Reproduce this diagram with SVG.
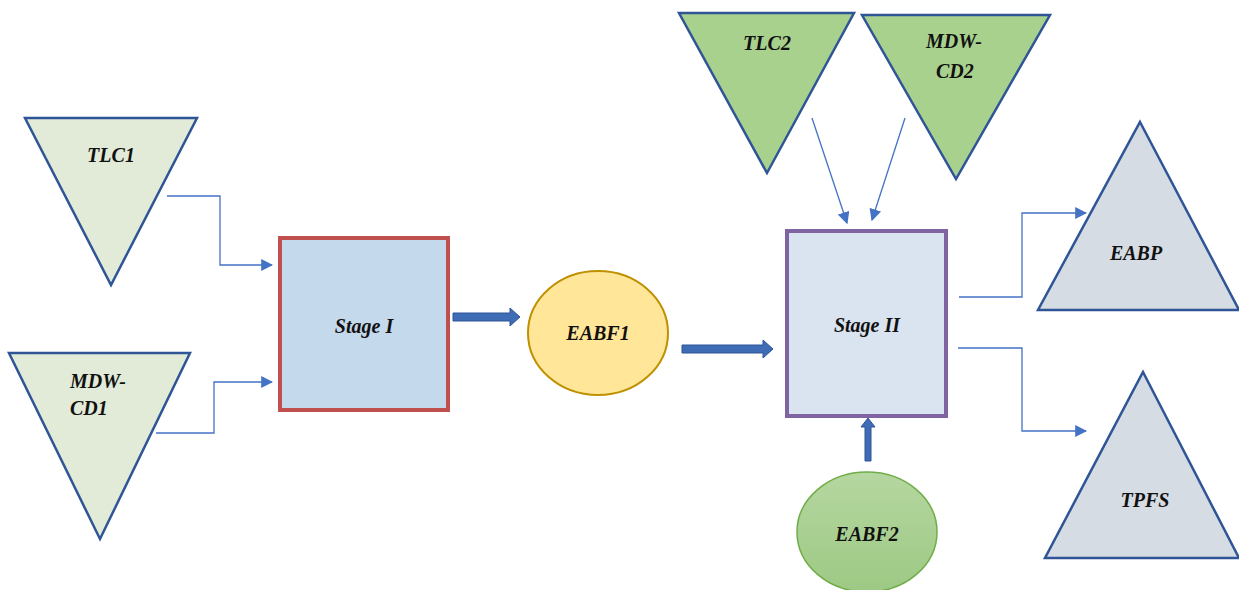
<svg xmlns="http://www.w3.org/2000/svg" width="1239" height="590" viewBox="0 0 1239 590">
<style>
.lbl{font-family:'Liberation Serif','DejaVu Serif',serif;font-weight:700;font-style:italic;font-size:20px;fill:#111}
.tri{stroke:#2F5597;stroke-width:2.5;stroke-linejoin:miter}
.con{fill:none;stroke:#4472C4;stroke-width:1.3}
.blk{fill:#3E6DB5;stroke:#2F5597;stroke-width:1}
</style>
<defs>
<marker id="ah" viewBox="0 0 10 10" refX="9" refY="5" markerWidth="12" markerHeight="12" markerUnits="userSpaceOnUse" orient="auto">
<path d="M0,0 L10,5 L0,10 z" fill="#4472C4"/>
</marker>
<linearGradient id="g2" x1="0" y1="0" x2="0" y2="1">
<stop offset="0" stop-color="#B5D7A0"/>
<stop offset="1" stop-color="#9DC984"/>
</linearGradient>
</defs>
<g id="tlc1"><polygon class="tri" points="25,118 197,118 111,285" fill="#E2EBD8"/><text class="lbl" x="111" y="162" text-anchor="middle">TLC1</text></g>
<g id="mdwcd1"><polygon class="tri" points="9,353 190,353 100,539" fill="#E2EBD8"/><text class="lbl" x="70" y="388">MDW-</text><text class="lbl" x="70" y="415">CD1</text></g>
<g id="stage1"><rect x="280" y="238" width="168" height="172" fill="#C5D9EC" stroke="#C0504D" stroke-width="4"/><text class="lbl" x="364" y="333" text-anchor="middle">Stage I</text></g>
<g id="eabf1"><ellipse cx="598" cy="333" rx="70" ry="62" fill="#FFE699" stroke="#BF9000" stroke-width="2"/><text class="lbl" x="598" y="340" text-anchor="middle">EABF1</text></g>
<g id="tlc2"><polygon class="tri" points="679,13 854,13 767,173" fill="#A9D18E"/><text class="lbl" x="767" y="50" text-anchor="middle">TLC2</text></g>
<g id="mdwcd2"><polygon class="tri" points="862,15 1050,15 956,179" fill="#A9D18E"/><text class="lbl" x="926" y="48">MDW-</text><text class="lbl" x="936" y="78">CD2</text></g>
<g id="stage2"><rect x="787" y="231" width="159" height="185" fill="#DAE3F0" stroke="#8064A2" stroke-width="4"/><text class="lbl" x="867" y="332" text-anchor="middle">Stage II</text></g>
<g id="eabf2"><ellipse cx="867" cy="532" rx="70" ry="60" fill="url(#g2)" stroke="#70AD47" stroke-width="1.5"/><text class="lbl" x="867" y="541" text-anchor="middle">EABF2</text></g>
<g id="eabp"><polygon class="tri" points="1140,122 1239,310 1038,310" fill="#D6DCE4"/><text class="lbl" x="1136" y="260" text-anchor="middle">EABP</text></g>
<g id="tpfs"><polygon class="tri" points="1143,372 1239,558 1045,558" fill="#D6DCE4"/><text class="lbl" x="1145" y="507" text-anchor="middle">TPFS</text></g>
<g id="connectors">
<polyline class="con" points="167,196 220,196 220,265 272,265" marker-end="url(#ah)"/>
<polyline class="con" points="156,433 214,433 214,382 272,382" marker-end="url(#ah)"/>
<line class="con" x1="812" y1="118" x2="847" y2="223" marker-end="url(#ah)"/>
<line class="con" x1="905" y1="118" x2="872" y2="220" marker-end="url(#ah)"/>
<polyline class="con" points="959,297 1022,297 1022,213 1086,213" marker-end="url(#ah)"/>
<polyline class="con" points="958,348 1022,348 1022,431 1086,431" marker-end="url(#ah)"/>
<path class="blk" d="M453,313 L510,313 L510,308 L520,317 L510,326 L510,321 L453,321 z"/>
<path class="blk" d="M682,345 L763,345 L763,340 L773,349 L763,358 L763,353 L682,353 z"/>
<path class="blk" d="M865,461 L865,427 L861,427 L868,418 L875,427 L871,427 L871,461 z"/>
</g>
</svg>
